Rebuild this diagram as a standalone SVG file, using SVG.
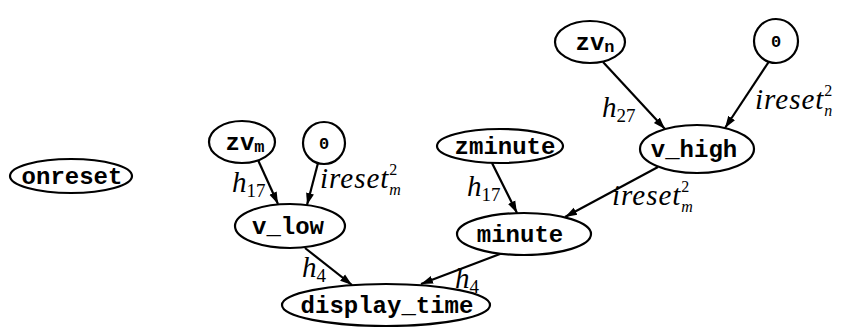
<svg xmlns="http://www.w3.org/2000/svg" width="841" height="327" viewBox="0 0 841 327">
<defs>
<marker id="ah" viewBox="0 0 12 10" refX="12" refY="5" markerWidth="12" markerHeight="10" markerUnits="userSpaceOnUse" orient="auto">
<path d="M0,1 L12,5 L0,9 Z" fill="#000"/>
</marker>
<style>
.n{fill:#fff;stroke:#000;stroke-width:2.2}
.t{font-family:"Liberation Mono",monospace;font-weight:bold;font-size:24px;text-anchor:middle;fill:#000}
.s{font-size:17px}
.e{stroke:#000;stroke-width:2.2;fill:none;marker-end:url(#ah)}
.l{font-family:"Liberation Serif",serif;font-style:italic;font-size:29px;fill:#000}
.w{letter-spacing:1px}
.sub{font-size:19px;letter-spacing:0;font-style:normal}
.sc{font-size:16px;letter-spacing:0}
.up{font-style:normal}
</style>
</defs>
<rect width="841" height="327" fill="#fff"/>
<g id="connectors">
<line class="e" x1="258" y1="160" x2="278" y2="204"/>
<line class="e" x1="318" y1="163" x2="307" y2="205"/>
<line class="e" x1="492" y1="163" x2="517" y2="213"/>
<line class="e" x1="658" y1="167" x2="565" y2="217"/>
<line class="e" x1="603" y1="62" x2="665" y2="129"/>
<line class="e" x1="770" y1="60" x2="725" y2="128"/>
<line class="e" x1="305" y1="248" x2="352" y2="285"/>
<line class="e" x1="500" y1="254" x2="421" y2="284"/>
<text class="l" x="232" y="192">h<tspan class="sub" dy="5">17</tspan></text>
<text class="l w" x="320" y="188">ireset<tspan class="sc up" dy="-13">2</tspan><tspan class="sc" dx="-8" dy="20">m</tspan></text>
<text class="l" x="467" y="196">h<tspan class="sub" dy="5">17</tspan></text>
<text class="l w" x="612" y="205">ireset<tspan class="sc up" dy="-13">2</tspan><tspan class="sc" dx="-8" dy="20">m</tspan></text>
<text class="l" x="602" y="117">h<tspan class="sub" dy="5">27</tspan></text>
<text class="l w" x="755" y="109">ireset<tspan class="sc up" dy="-13">2</tspan><tspan class="sc" dx="-8" dy="20">n</tspan></text>
<text class="l" x="302" y="277">h<tspan class="sub" dy="5">4</tspan></text>
<text class="l" x="455" y="288">h<tspan class="sub" dy="5">4</tspan></text>
</g>
<g id="onreset"><ellipse class="n" cx="71" cy="176" rx="61" ry="17"/><text class="t" x="72" y="184">onreset</text></g>
<g id="zv_m"><ellipse class="n" cx="242" cy="142" rx="33" ry="21"/><text class="t" x="245" y="150">zv<tspan class="s" dy="2">m</tspan></text></g>
<g id="zero_m"><circle class="n" cx="324" cy="143" r="21"/><text class="t" x="324" y="149" style="font-size:17px">0</text></g>
<g id="v_low"><ellipse class="n" cx="290" cy="226" rx="55" ry="22"/><text class="t" x="288" y="234">v_low</text></g>
<g id="zminute"><ellipse class="n" cx="500" cy="146" rx="63" ry="17"/><text class="t" x="505" y="154">zminute</text></g>
<g id="minute"><ellipse class="n" cx="524" cy="234" rx="67" ry="21"/><text class="t" x="520" y="242">minute</text></g>
<g id="zv_n"><ellipse class="n" cx="590" cy="42" rx="35" ry="21"/><text class="t" x="595" y="50">zv<tspan class="s" dy="2">n</tspan></text></g>
<g id="zero_n"><circle class="n" cx="776" cy="41" r="22"/><text class="t" x="776" y="47" style="font-size:17px">0</text></g>
<g id="v_high"><ellipse class="n" cx="697" cy="149" rx="57" ry="24"/><text class="t" x="694" y="157">v_high</text></g>
<g id="display_time"><ellipse class="n" cx="386" cy="305" rx="104" ry="21"/><text class="t" x="387" y="313">display_time</text></g>
</svg>
